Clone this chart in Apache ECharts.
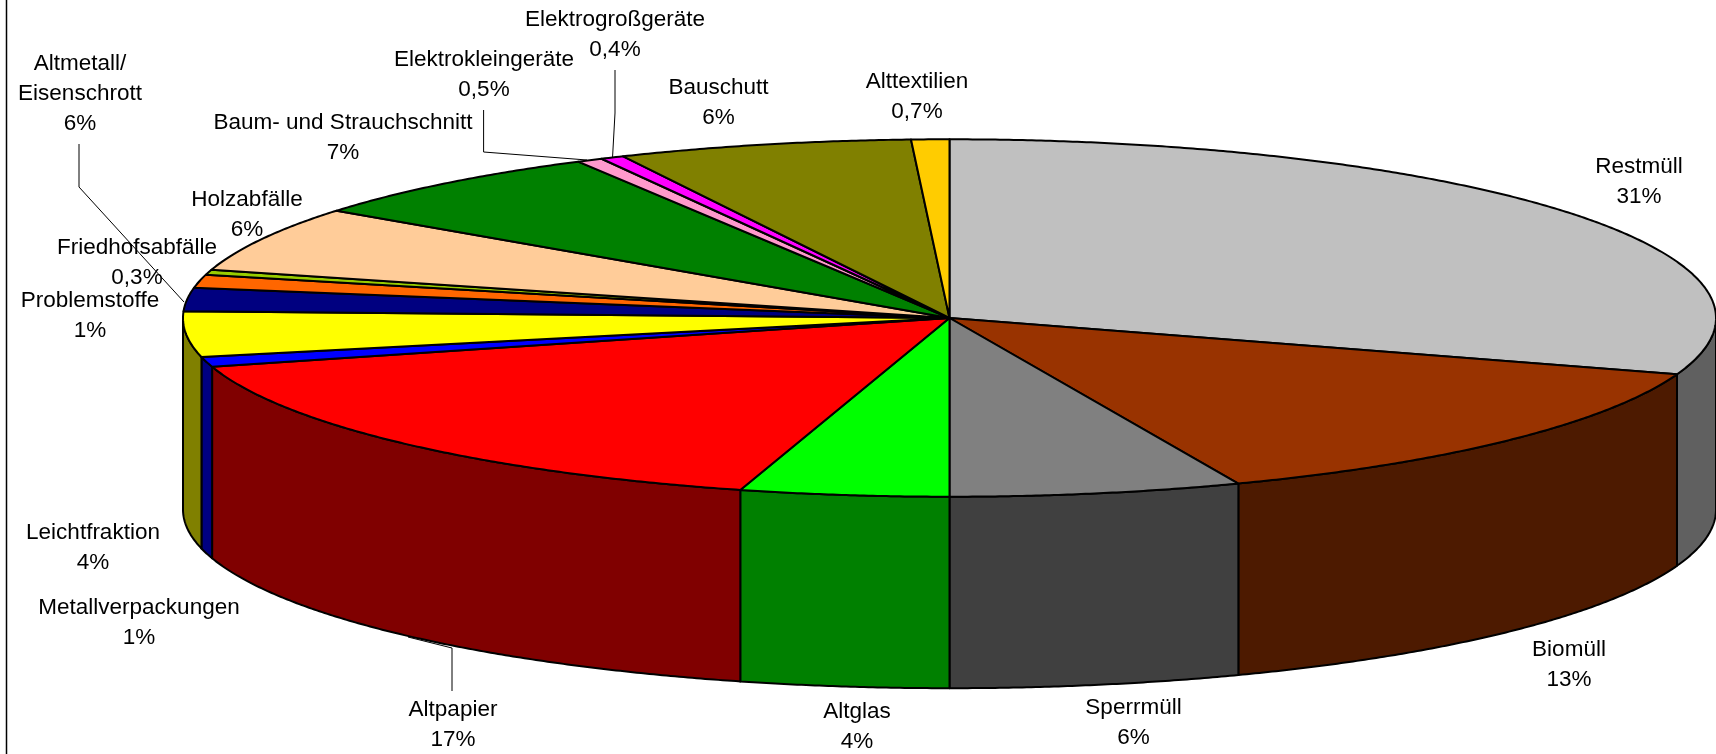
<!DOCTYPE html>
<html><head><meta charset="utf-8">
<style>html,body{margin:0;padding:0;background:#fff}#c{width:1716px;height:754px}</style>
<script src="https://cdn.jsdelivr.net/npm/echarts@6/dist/echarts.min.js"></script>
</head><body><div id="c"></div>
<script>
// Data, clockwise from the top of the pie
const categories = ['Restmüll','Biomüll','Sperrmüll','Altglas','Altpapier','Metallverpackungen','Leichtfraktion','Problemstoffe','Altmetall/\nEisenschrott','Friedhofsabfälle','Holzabfälle','Baum- und Strauchschnitt','Elektrokleingeräte','Elektrogroßgeräte','Bauschutt','Alttextilien'];
// Slice shares
const sliceValues = [30.1,13.75,6.15,4.4,16.2,0.9,4.1,2.1,1.2,0.45,5.9,6.7,0.55,0.5,6.2,0.8];
// Percent labels as printed in the picture
const shareLabels = ['31%','13%','6%','4%','17%','1%','4%','1%','6%','0,3%','6%','7%','0,5%','0,4%','6%','0,7%'];
const topColors = ['#C0C0C0','#993300','#808080','#00FF00','#FF0000','#0000FF','#FFFF00','#000080','#FF6600','#99CC00','#FFCC99','#008000','#FF99CC','#FF00FF','#808000','#FFCC00'];
const wallColors = ['#606060','#4D1A00','#404040','#008000','#800000','#000080','#808000','#000040','#803300','#4D6600','#806650','#004000','#804D66','#800080','#404000','#806600'];

// Layout
const CX = 949.5, CY = 318, RX = 766.5, RY = 178.7, DEPTH = 191.5;
const labelCenters = [[1639,182],[1569,665],[1133.5,722.5],[857,727],[453,725],[139,623],[93,547.5],[90,316],[80,93.5],[137,263],[247,215],[343,138],[484,75],[615,35],[718.5,102.5],[917,97]];
const leaderLines = [
  [[79,144],[79,187],[184,302]],
  [[483.6,110],[483.6,152],[587,160]],
  [[615,70],[615,113],[612.5,158]],
  [[452,691],[452,648],[408,637]]
];

const total = sliceValues.reduce((s, v) => s + v, 0);
const cum = [0];
sliceValues.forEach(v => cum.push(cum[cum.length - 1] + v));
const toAngle = v => echarts.number.linearMap(v, [0, total], [0, Math.PI * 2]);
const rim = (t, dy) => [CX + RX * Math.sin(t), CY + (dy || 0) - RY * Math.cos(t)];
const arc = (a, b, dy) => {
  const n = Math.max(2, Math.ceil((b - a) / 0.006)), pts = [];
  for (let i = 0; i <= n; i++) pts.push(rim(a + (b - a) * i / n, dy));
  return pts;
};
const edge = { stroke: '#000', lineWidth: 2, lineJoin: 'round' };

function renderTop(params) {
  const i = params.dataIndex, a = toAngle(cum[i]), b = toAngle(cum[i + 1]);
  return { type: 'polygon', shape: { points: [[CX, CY]].concat(arc(a, b)) },
           style: Object.assign({ fill: topColors[i] }, edge) };
}
function renderWall(params) {
  const i = params.dataIndex;
  const a = Math.max(toAngle(cum[i]), Math.PI / 2), b = Math.min(toAngle(cum[i + 1]), Math.PI * 1.5);
  if (b <= a) return null;
  return { type: 'polygon', shape: { points: arc(a, b).concat(arc(a, b, DEPTH).reverse()) },
           style: Object.assign({ fill: wallColors[i] }, edge) };
}

const textEls = categories.map((name, i) => ({
  type: 'text', x: labelCenters[i][0], y: labelCenters[i][1], z: 20,
  style: { text: name + '\n' + shareLabels[i], fill: '#000', align: 'center', verticalAlign: 'middle',
           font: '22.5px "Liberation Sans", Arial, sans-serif', lineHeight: 30 }
}));
const lineEls = leaderLines.map(p => ({
  type: 'polyline', z: 15, shape: { points: p }, style: { stroke: '#000', lineWidth: 1, fill: null }
}));

const chart = echarts.init(document.getElementById('c'), null, { renderer: 'canvas' });
chart.setOption({
  animation: false,
  backgroundColor: '#fff',
  graphic: { elements: [
    { type: 'line', z: 15, shape: { x1: 6.5, y1: 0, x2: 6.5, y2: 754 }, style: { stroke: '#000', lineWidth: 1.5 } },
    ...lineEls, ...textEls
  ] },
  series: [
    { type: 'custom', name: 'Seitenwand', coordinateSystem: 'none', renderItem: renderWall, data: sliceValues, z: 2, silent: true, clip: false },
    { type: 'custom', name: 'Oberseite', coordinateSystem: 'none', renderItem: renderTop, data: sliceValues, z: 3, silent: true, clip: false }
  ]
});
</script></body></html>
